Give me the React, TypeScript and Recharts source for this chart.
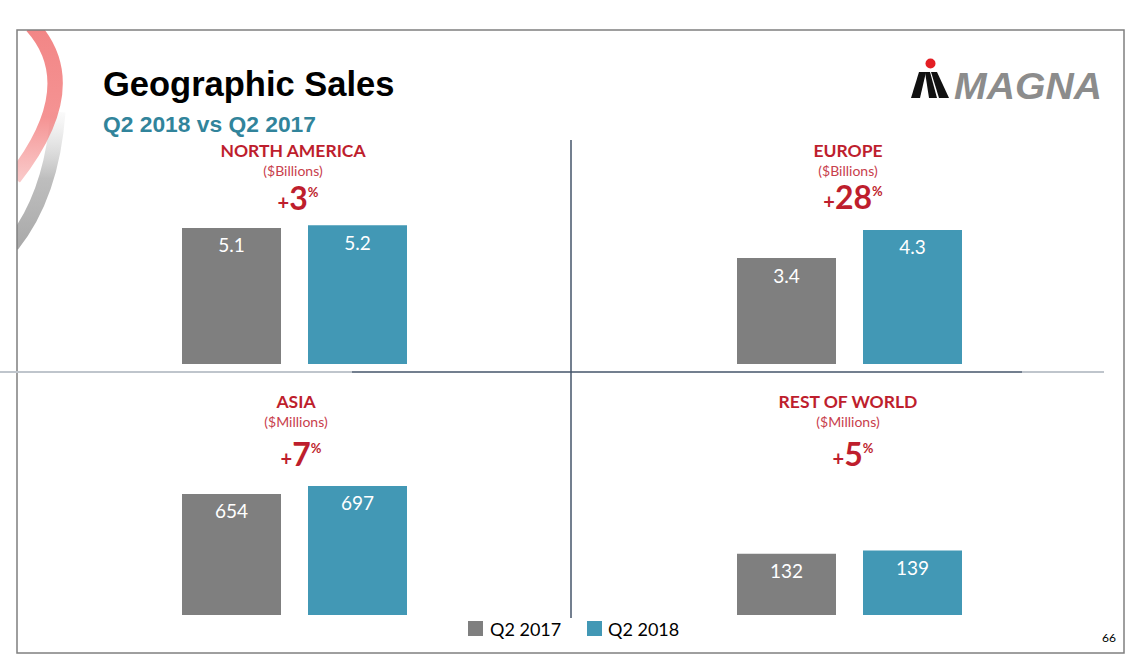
import React from 'react';
import { BarChart, Bar, XAxis, YAxis, LabelList } from 'recharts';

// ---- data ----
const regions = ['NORTH AMERICA', 'EUROPE', 'ASIA', 'REST OF WORLD'];
const units = ['($Billions)', '($Billions)', '($Millions)', '($Millions)'];
const growthPct = [3, 28, 7, 5];
const seriesNames = ['Q2 2017', 'Q2 2018'];
const q2y2017 = [5.1, 3.4, 654, 132];
const q2y2018 = [5.2, 4.3, 697, 139];

// ---- styling / layout ----
const COLORS = ['#7F7F7F', '#4298B5'];
const RED = '#BE1E2D';
const TEAL = '#31849B';
const LINE_DARK = '#44546A';
const LINE_LIGHT = '#BFC5CC';
const FONT = 'Lato, "Open Sans", sans-serif';

const panelLeft = [145, 700, 145, 700];
const panelCenter = [293, 848, 296, 848];
const panelPlotTop = [220, 220, 471, 471];
const titleBase = [157, 157, 408, 408];
const unitBase = [176, 176, 427, 427];
const pctBase = [210, 209, 466, 466];
const axisMax = [5.4, 4.62, 778, 310];
const CHART_W = 299;
const PLOT_H = 144;

const legendSquareX = [468, 587];
const legendTextX = [490, 608];

function Panel({ i }: { i: number }) {
  const data = [{ name: regions[i], s0: q2y2017[i], s1: q2y2018[i] }];
  return (
    <div style={{ position: 'absolute', left: panelLeft[i], top: panelPlotTop[i] }}>
      <BarChart
        width={CHART_W}
        height={PLOT_H}
        data={data}
        margin={{ top: 0, right: 0, bottom: 0, left: 0 }}
        barGap={27}
      >
        <XAxis dataKey="name" hide />
        <YAxis hide domain={[0, axisMax[i]]} />
        {['s0', 's1'].map((k, j) => (
          <Bar
            key={k}
            dataKey={k}
            name={seriesNames[j]}
            fill={COLORS[j]}
            barSize={99}
            isAnimationActive={false}
          >
            <LabelList
              dataKey={k}
              position="insideTop"
              offset={11}
              fill="#FFFFFF"
              fontSize={19}
              fontFamily={FONT}
            />
          </Bar>
        ))}
      </BarChart>
    </div>
  );
}

export default function App() {
  return (
    <div
      style={{
        position: 'absolute',
        left: 0,
        top: 0,
        width: 1136,
        height: 672,
        background: '#FFFFFF',
        overflow: 'hidden',
        fontFamily: FONT,
      }}
    >
      <svg width={1136} height={672} style={{ position: 'absolute', left: 0, top: 0 }}>
        <defs>
          <linearGradient id="redSw" x1="0" y1="0" x2="0" y2="1">
            <stop offset="0" stopColor="#F07070" stopOpacity="0.85" />
            <stop offset="0.6" stopColor="#F27878" stopOpacity="0.8" />
            <stop offset="1" stopColor="#F49090" stopOpacity="0.5" />
          </linearGradient>
          <linearGradient id="graySw" x1="0" y1="0" x2="0" y2="1">
            <stop offset="0" stopColor="#D0D0D0" stopOpacity="0.1" />
            <stop offset="0.5" stopColor="#A8A8A8" stopOpacity="0.75" />
            <stop offset="1" stopColor="#A0A0A0" stopOpacity="0.9" />
          </linearGradient>
          <clipPath id="slideClip">
            <rect x={17} y={30} width={1107} height={623} />
          </clipPath>
        </defs>

        {/* decorative swooshes */}
        <g clipPath="url(#slideClip)">
          <path d="M 58 112 Q 52 195 12 245" stroke="url(#graySw)" strokeWidth={15} fill="none" />
          <path d="M 32 26 Q 86 86 14 178" stroke="url(#redSw)" strokeWidth={15} fill="none" />
        </g>

        {/* slide border */}
        <rect x={17} y={30} width={1107} height={623} fill="none" stroke="#7F7F7F" strokeWidth={1.5} />

        {/* titles */}
        <text x={103} y={96} fontFamily='"Liberation Sans", Arial, sans-serif' fontWeight="bold" fontSize={34.5} fill="#000">
          Geographic Sales
        </text>
        <text x={103} y={132} fontFamily='"Liberation Sans", Arial, sans-serif' fontWeight="bold" fontSize={22.8} fill={TEAL}>
          Q2 2018 vs Q2 2017
        </text>

        {/* logo */}
        <circle cx={930.5} cy={63.5} r={5} fill="#E31E24" />
        <polygon points="911,98 920,98 926,72 919,72" fill="#111" />
        <polygon points="925,72 930,72 937,98 929,98" fill="#111" />
        <polygon points="931,72 937,72 949,98 939,98" fill="#111" />
        <text
          x={954}
          y={99}
          fontFamily='"Liberation Sans", Arial, sans-serif'
          fontWeight="bold"
          fontStyle="italic"
          fontSize={36}
          fill="#8C8C8C"
          textLength={148}
          lengthAdjust="spacingAndGlyphs"
        >
          MAGNA
        </text>

        {/* dividers */}
        <line x1={0} y1={372} x2={352} y2={372} stroke={LINE_LIGHT} strokeWidth={2} />
        <line x1={352} y1={372} x2={1022} y2={372} stroke={LINE_DARK} strokeWidth={1.3} />
        <line x1={1022} y1={372} x2={1104} y2={372} stroke={LINE_LIGHT} strokeWidth={2} />
        <line x1={571} y1={140} x2={571} y2={618} stroke={LINE_DARK} strokeWidth={1.5} />

        {/* panel headers */}
        {regions.map((r, i) => (
          <g key={r} fontFamily={FONT}>
            <text x={panelCenter[i]} y={titleBase[i]} textAnchor="middle" fontWeight="bold" fontSize={17.5} fill={RED}>
              {r}
            </text>
            <text x={panelCenter[i]} y={unitBase[i]} textAnchor="middle" fontSize={14} fill="#C8404C">
              {units[i]}
            </text>
            <text x={panelCenter[i] + 5} y={pctBase[i]} textAnchor="middle" fontWeight="bold" fill={RED}>
              <tspan fontSize={20}>+</tspan>
              <tspan fontSize={32}>{growthPct[i]}</tspan>
              <tspan fontSize={13} dy={-13}>%</tspan>
            </text>
          </g>
        ))}

        {/* legend */}
        {seriesNames.map((s, j) => (
          <g key={s}>
            <rect x={legendSquareX[j]} y={621} width={15} height={15} fill={COLORS[j]} />
            <text x={legendTextX[j]} y={636} fontFamily={FONT} fontSize={18} fill="#000">
              {s}
            </text>
          </g>
        ))}

        {/* page number */}
        <text x={1102} y={642} fontFamily={FONT} fontSize={12} fill="#000">
          66
        </text>
      </svg>

      {regions.map((r, i) => (
        <Panel key={r} i={i} />
      ))}
    </div>
  );
}
